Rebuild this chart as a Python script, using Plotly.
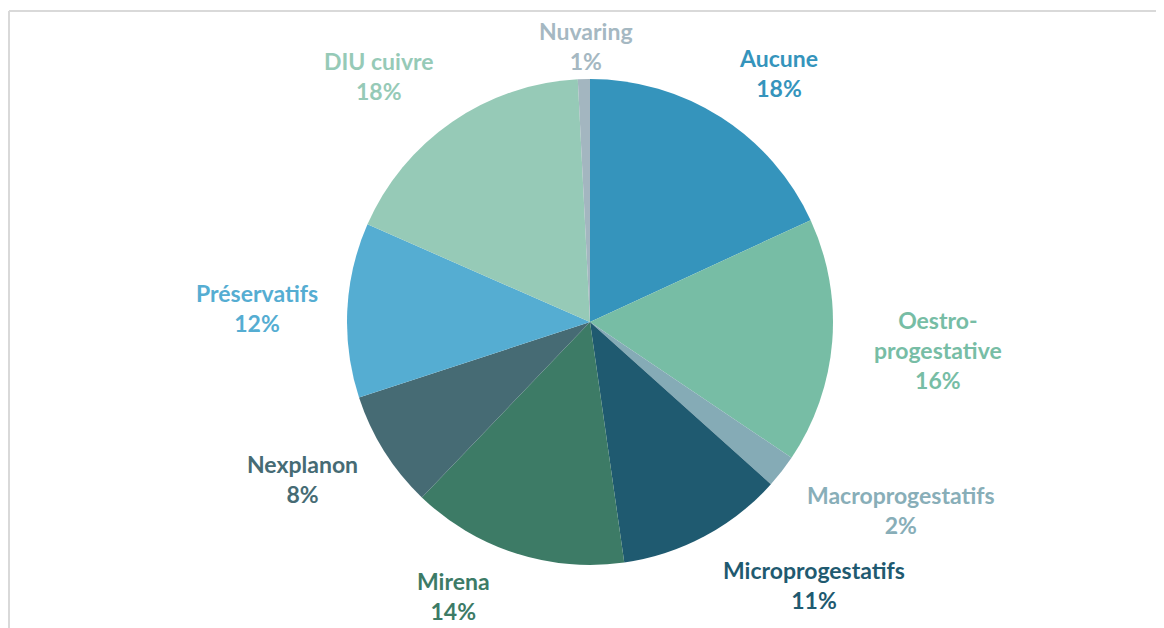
import math
import plotly.graph_objects as go

# ---- data ----
categories = ["Aucune", "Oestro-<br>progestative", "Macroprogestatifs", "Microprogestatifs",
              "Mirena", "Nexplanon", "Préservatifs", "DIU cuivre", "Nuvaring"]
values = [18.1, 16.3, 2.2, 11.1, 14.4, 7.8, 11.6, 17.6, 0.8]

# ---- styles ----
slice_colors = ["#3594BC", "#77BDA5", "#85ABB6", "#1F5A70", "#3D7B66",
                "#466B74", "#55ADD2", "#96CAB7", "#A3B6C0"]
label_colors = ["#3594BC", "#77BDA5", "#88AEB8", "#1F5A70", "#3D7B66",
                "#466B74", "#55ADD2", "#96CAB7", "#A5B8C2"]
# approximate label box sizes (px) and nudges (px)
label_w = [84, 140, 196, 196, 80, 120, 136, 114, 96]
label_h = [60, 90, 60, 60, 60, 60, 60, 60, 60]
nudge = [(24, -2), (16, 3), (26, 8), (54, 5), (-44, -5), (-14, 1), (-2, 0), (-29, -5), (4, 17)]

W, H = 1164, 628
OFF = 8  # page body margin
CX, CY, R = 590, 322, 243
GAP = 20


def px2paper(x, y):
    return (x - OFF) / W, 1 - (y - OFF) / H


dx0, dy1 = px2paper(CX - R, CY - R)
dx1, dy0 = px2paper(CX + R, CY + R)

fig = go.Figure(go.Pie(
    labels=categories,
    values=values,
    sort=False,
    direction="clockwise",
    rotation=0,
    textinfo="none",
    hoverinfo="label+percent",
    marker=dict(colors=slice_colors, line=dict(width=0)),
    domain=dict(x=[dx0, dx1], y=[dy0, dy1]),
    showlegend=False,
))

total = sum(values)
cum = 0.0
annotations = []
for i, v in enumerate(values):
    mid = (cum + v / 2) / total * 2 * math.pi
    cum += v
    s, c = math.sin(mid), -math.cos(mid)  # screen dx, dy unit
    px = CX + (R + GAP) * s + s * label_w[i] / 2 + nudge[i][0]
    py = CY + (R + GAP) * c + c * label_h[i] / 2 + nudge[i][1]
    ax, ay = px2paper(px, py)
    pct = round(v / total * 100)
    annotations.append(dict(
        x=ax, y=ay, xref="paper", yref="paper",
        text=f"<b>{categories[i]}<br>{pct}%</b>", showarrow=False,
        xanchor="center", yanchor="middle", align="center",
        font=dict(family="Lato", size=23, color=label_colors[i]),
    ))

bx, by = px2paper(9, 11)
fig.update_layout(
    width=W, height=H,
    margin=dict(l=0, r=0, t=0, b=0),
    paper_bgcolor="white", plot_bgcolor="white",
    annotations=annotations,
    shapes=[
        dict(type="line", xref="paper", yref="paper", x0=bx, x1=1, y0=by, y1=by,
             line=dict(color="#D9D9D9", width=2)),
        dict(type="line", xref="paper", yref="paper", x0=bx, x1=bx, y0=0, y1=by,
             line=dict(color="#D9D9D9", width=2)),
    ],
)

fig.write_html("out.html")
